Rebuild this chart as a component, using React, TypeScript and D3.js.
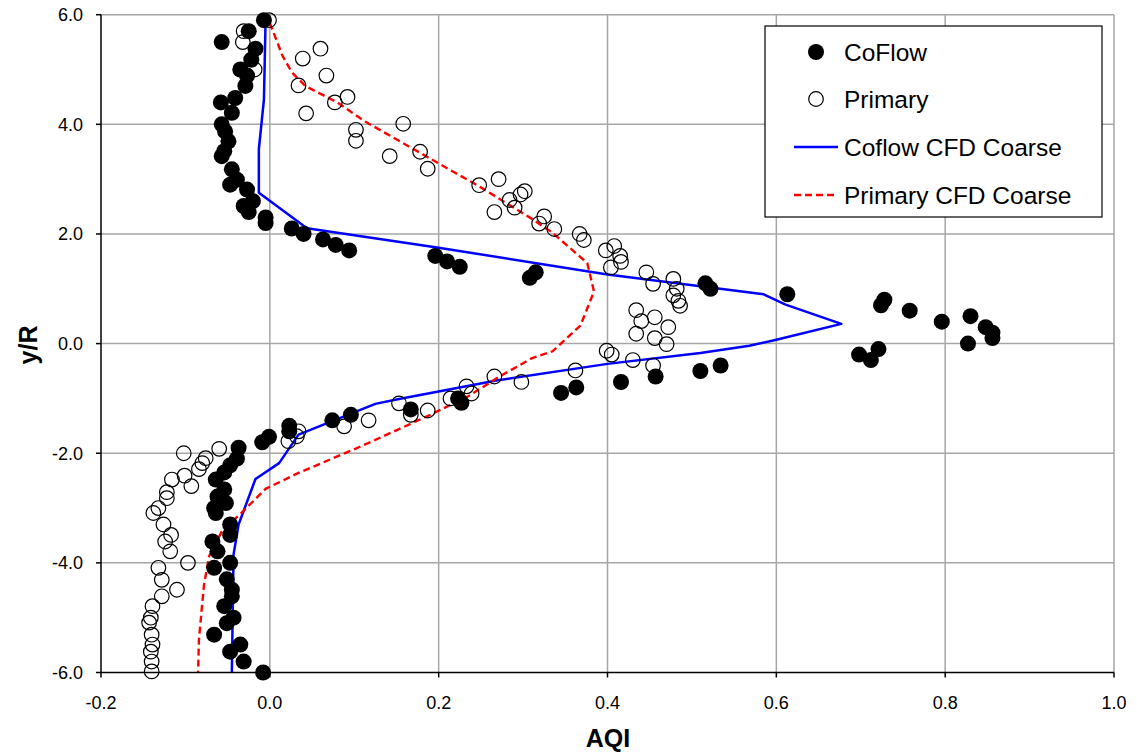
import React from "react";
import * as d3 from "d3";

// ---- Data ----
const coflowX = [-0.007,-0.025,-0.057,-0.017,-0.022,-0.035,-0.027,-0.029,-0.041,-0.058,-0.045,-0.057,-0.053,-0.049,-0.054,-0.057,-0.045,-0.039,-0.047,-0.027,-0.02,-0.031,-0.025,-0.005,-0.005,0.026,0.04,0.063,0.078,0.094,0.196,0.21,0.225,0.315,0.308,0.516,0.522,0.613,0.728,0.724,0.758,0.83,0.796,0.848,0.856,0.856,0.827,0.721,0.698,0.712,0.534,0.51,0.457,0.416,0.363,0.345,0.223,0.227,0.167,0.096,0.074,0.023,0.023,-0.001,-0.009,-0.037,-0.039,-0.047,-0.054,-0.064,-0.054,-0.062,-0.052,-0.066,-0.064,-0.047,-0.047,-0.068,-0.062,-0.047,-0.066,-0.051,-0.045,-0.045,-0.054,-0.043,-0.051,-0.066,-0.035,-0.047,-0.031,-0.008];
const coflowY = [5.9,5.7,5.5,5.38,5.18,5.0,4.89,4.7,4.48,4.4,4.21,4.0,3.87,3.69,3.51,3.42,3.18,2.99,2.9,2.81,2.6,2.51,2.4,2.3,2.2,2.1,2.0,1.9,1.8,1.7,1.6,1.5,1.4,1.3,1.2,1.1,1.0,0.9,0.8,0.7,0.6,0.5,0.4,0.3,0.2,0.1,0.0,-0.1,-0.2,-0.3,-0.4,-0.5,-0.6,-0.7,-0.8,-0.9,-1.0,-1.08,-1.2,-1.3,-1.4,-1.5,-1.6,-1.7,-1.8,-1.9,-2.1,-2.22,-2.35,-2.48,-2.66,-2.79,-2.91,-3.0,-3.09,-3.3,-3.49,-3.61,-3.79,-4.0,-4.09,-4.3,-4.49,-4.61,-4.79,-5.0,-5.1,-5.31,-5.49,-5.62,-5.8,-6.0];

const primaryX = [-0.001,-0.031,-0.032,-0.018,0.06,0.039,0.067,0.034,0.092,0.077,0.043,0.158,0.102,0.102,0.178,0.142,0.187,0.271,0.248,0.302,0.297,0.284,0.29,0.266,0.325,0.319,0.337,0.367,0.372,0.408,0.398,0.415,0.416,0.404,0.446,0.478,0.454,0.482,0.478,0.484,0.486,0.434,0.456,0.44,0.472,0.434,0.456,0.47,0.399,0.405,0.43,0.454,0.362,0.266,0.298,0.233,0.239,0.214,0.153,0.187,0.167,0.117,0.088,0.034,0.032,0.022,-0.06,-0.102,-0.076,-0.08,-0.084,-0.101,-0.116,-0.093,-0.122,-0.122,-0.132,-0.138,-0.126,-0.117,-0.124,-0.118,-0.097,-0.132,-0.128,-0.11,-0.128,-0.139,-0.141,-0.143,-0.14,-0.139,-0.141,-0.14,-0.14];
const primaryY = [5.9,5.7,5.5,5.0,5.38,5.2,4.89,4.71,4.5,4.4,4.2,4.01,3.9,3.7,3.5,3.42,3.19,3.0,2.89,2.78,2.72,2.62,2.48,2.4,2.32,2.19,2.09,2.0,1.89,1.78,1.7,1.6,1.49,1.39,1.3,1.18,1.09,1.0,0.88,0.78,0.69,0.61,0.48,0.41,0.3,0.18,0.1,-0.01,-0.13,-0.2,-0.3,-0.4,-0.49,-0.6,-0.7,-0.78,-0.91,-1.0,-1.09,-1.22,-1.3,-1.4,-1.51,-1.6,-1.69,-1.78,-1.92,-2.0,-2.09,-2.18,-2.29,-2.41,-2.48,-2.6,-2.71,-2.82,-3.0,-3.09,-3.3,-3.49,-3.61,-3.79,-4.0,-4.09,-4.31,-4.49,-4.61,-4.79,-5.0,-5.09,-5.31,-5.49,-5.62,-5.8,-5.98];

const coflowCfdX = [-0.005,-0.007,-0.013,-0.013,0.040,0.046,0.2,0.4,0.585,0.611,0.677,0.6,0.568,0.51,0.4,0.27,0.15,0.125,0.034,0.011,-0.017,-0.037,-0.043,-0.045];
const coflowCfdY = [5.92,4.45,3.55,2.75,2.15,2.1,1.75,1.26,0.9,0.71,0.36,0.07,-0.04,-0.17,-0.37,-0.67,-1.02,-1.1,-1.66,-2.18,-2.47,-3.3,-3.85,-6.0];

const primaryCfdX = [0.0,0.015,0.026,0.042,0.08,0.113,0.17,0.21,0.25,0.31,0.335,0.376,0.384,0.368,0.335,0.31,0.27,0.235,0.19,0.113,0.034,-0.005,-0.033,-0.056,-0.072,-0.078,-0.084,-0.085];
const primaryCfdY = [5.85,5.25,4.95,4.7,4.4,4.05,3.55,3.2,2.85,2.28,2.02,1.47,0.95,0.33,-0.14,-0.27,-0.62,-0.96,-1.3,-1.84,-2.36,-2.65,-3.08,-3.4,-3.88,-4.4,-5.4,-6.0];

const xTicks = [-0.2, 0.0, 0.2, 0.4, 0.6, 0.8, 1.0];
const yTicks = [-6, -4, -2, 0, 2, 4, 6];

const legendItems = ["CoFlow", "Primary", "Coflow CFD Coarse", "Primary CFD Coarse"];

// ---- Layout ----
const W = 1137, H = 754;
const L = 101, R = 1114, T = 14.7, B = 672.5;
const FONT = "Liberation Sans, Arial, Helvetica, sans-serif";

export default function App() {
  const x = d3.scaleLinear().domain([-0.2, 1.0]).range([L, R]);
  const y = d3.scaleLinear().domain([-6, 6]).range([B, T]);
  const line = d3.line<[number, number]>().x(d => x(d[0])).y(d => y(d[1]));

  const coflow = coflowX.map((v, i) => [v, coflowY[i]] as [number, number]);
  const primary = primaryX.map((v, i) => [v, primaryY[i]] as [number, number]);
  const coflowCfd = coflowCfdX.map((v, i) => [v, coflowCfdY[i]] as [number, number]);
  const primaryCfd = primaryCfdX.map((v, i) => [v, primaryCfdY[i]] as [number, number]);

  const gridColor = "#a6a6a6";
  const lx = 765, ly = 26, lw = 337, lh = 191;
  const rowY = [52, 99, 147, 195];

  return (
    <svg width={W} height={H} style={{ position: "absolute", left: 0, top: 0, background: "#fff" }}>
      <rect x={0} y={0} width={W} height={H} fill="#fff" />
      {/* gridlines */}
      {xTicks.filter(t => t > -0.2).map(t => (
        <line key={"gx" + t} x1={x(t)} x2={x(t)} y1={T} y2={B} stroke={gridColor} strokeWidth={1.5} />
      ))}
      {yTicks.filter(t => t > -6).map(t => (
        <line key={"gy" + t} x1={L} x2={R} y1={y(t)} y2={y(t)} stroke={gridColor} strokeWidth={1.5} />
      ))}
      {/* lines */}
      <path d={line(coflowCfd) || ""} fill="none" stroke="#0000ff" strokeWidth={2.5} strokeLinejoin="round" />
      <path d={line(primaryCfd) || ""} fill="none" stroke="#ff0000" strokeWidth={2.4} strokeDasharray="7,4" />
      {/* markers */}
      {primary.map((d, i) => (
        <circle key={"p" + i} cx={x(d[0])} cy={y(d[1])} r={7.3} fill="none" stroke="#000" strokeWidth={1.2} />
      ))}
      {coflow.map((d, i) => (
        <circle key={"c" + i} cx={x(d[0])} cy={y(d[1])} r={8} fill="#000" />
      ))}
      {/* axes */}
      <line x1={L} x2={L} y1={T} y2={B} stroke="#000" strokeWidth={1.5} />
      <line x1={L} x2={R} y1={B} y2={B} stroke="#000" strokeWidth={1.5} />
      {yTicks.map(t => (
        <g key={"ty" + t}>
          <line x1={L - 5} x2={L} y1={y(t)} y2={y(t)} stroke="#000" strokeWidth={1.5} />
          <text x={L - 18} y={y(t)} dy="0.35em" textAnchor="end" fontFamily={FONT} fontSize={18} fill="#000">
            {t.toFixed(1)}
          </text>
        </g>
      ))}
      {xTicks.map(t => (
        <g key={"tx" + t}>
          <line x1={x(t)} x2={x(t)} y1={B} y2={B + 5} stroke="#000" strokeWidth={1.5} />
          <text x={x(t)} y={709} textAnchor="middle" fontFamily={FONT} fontSize={18} fill="#000">
            {t.toFixed(1)}
          </text>
        </g>
      ))}
      {/* axis titles */}
      <text x={608} y={747} textAnchor="middle" fontFamily={FONT} fontSize={25} fontWeight="bold" fill="#000">AQI</text>
      <text transform="translate(37,345) rotate(-90)" textAnchor="middle" fontFamily={FONT} fontSize={25} fontWeight="bold" fill="#000">y/R</text>
      {/* legend */}
      <rect x={lx} y={ly} width={lw} height={lh} fill="#fff" stroke="#000" strokeWidth={1.2} />
      <circle cx={816} cy={rowY[0]} r={8} fill="#000" />
      <circle cx={816} cy={rowY[1]} r={7.3} fill="none" stroke="#000" strokeWidth={1.2} />
      <line x1={794} x2={838} y1={rowY[2]} y2={rowY[2]} stroke="#0000ff" strokeWidth={2.5} />
      <line x1={794} x2={838} y1={rowY[3]} y2={rowY[3]} stroke="#ff0000" strokeWidth={2.4} strokeDasharray="7,4" />
      {legendItems.map((s, i) => (
        <text key={s} x={844} y={rowY[i]} dy="0.35em" fontFamily={FONT} fontSize={24.5} fill="#000">{s}</text>
      ))}
    </svg>
  );
}
